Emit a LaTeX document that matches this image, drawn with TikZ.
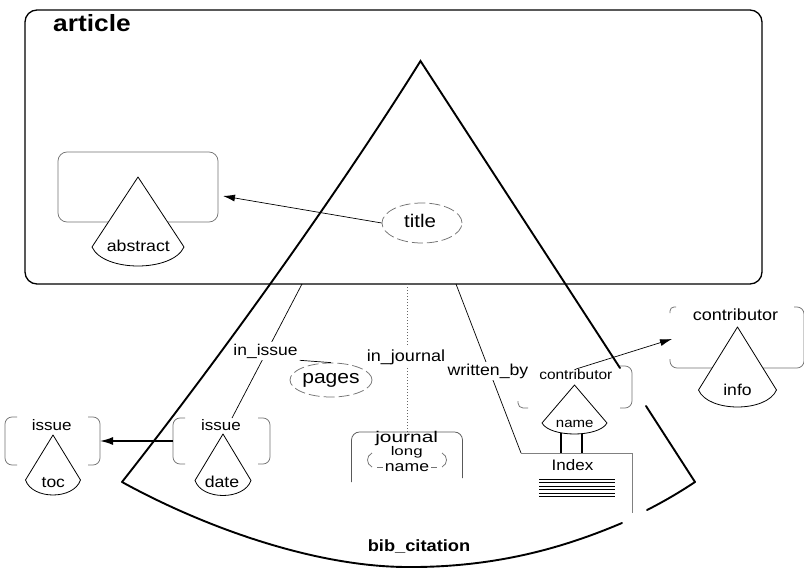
\documentclass[tikz,border=0pt]{standalone}
\usepackage{fontspec}
\setmainfont{Liberation Sans}[FakeStretch=1.12]
\newfontfamily\widesans{Liberation Sans}[FakeStretch=1.35]
\newfontfamily\midsans{Liberation Sans}[FakeStretch=1.2]
\usetikzlibrary{arrows.meta,calc,shapes.geometric}

\newcommand{\setfs}[1]{\fontsize{#1}{#1}\selectfont}
% cone: apex x, apex y, half width of the base, height, bulge of the base arc
\newcommand{\conefig}[5]{%
  \draw[conestyle] (#1,#2) -- ({#1-#3},{#2+#4})
    .. controls ({#1-0.75*#3},{#2+#4+1.333*#5}) and ({#1+0.75*#3},{#2+#4+1.333*#5})
    .. ({#1+#3},{#2+#4}) -- cycle;}
% the two side brackets of a box node, #2 = length of the corner ticks
\newcommand{\sidebrackets}[2]{%
  \draw[faint, rounded corners=7pt] ($(#1.north west)+(#2,0)$) -- (#1.north west)
    -- (#1.south west) -- ($(#1.south west)+(#2,0)$);
  \draw[faint, rounded corners=7pt] ($(#1.north east)+(-#2,0)$) -- (#1.north east)
    -- (#1.south east) -- ($(#1.south east)+(-#2,0)$);}

\begin{document}
\begin{tikzpicture}[x=1pt, y=-1pt,
  frame/.style={draw, line width=1.3pt, rounded corners=12pt, inner sep=0pt},
  area/.style={inner sep=0pt, outer sep=0pt},
  faint/.style={draw=black!55, line width=0.75pt},
  ovaldash/.style={draw=black!55, line width=0.75pt, dash pattern=on 11pt off 4pt,
    shape=ellipse, inner sep=0pt},
  cutline/.style={line width=1.9pt, line cap=round},
  link/.style={line width=0.7pt},
  dotlink/.style={draw=black!60, line width=0.8pt, dash pattern=on 1pt off 2pt},
  conestyle/.style={draw, fill=white, line width=0.8pt, line join=round},
  lbl/.style={inner sep=0pt, anchor=base},
  tag/.style={inner sep=2pt, anchor=base, fill=white},
  thintip/.style={link, -{Latex[length=12pt,width=7pt]}},
  boldtip/.style={line width=1.6pt, -{Latex[length=13pt,width=8pt]}},
]
\useasboundingbox (0,0) rectangle (804,570);
\fill[white] (0,0) rectangle (804,570);

% outer article frame
\node[frame, minimum width=737pt, minimum height=274pt] (article) at (393.5,147) {};
\node[lbl, anchor=base west, font={\bfseries\setfs{23.5}}] (articlelbl) at (53,31) {article};

% abstract box and title oval
\node[area, faint, rounded corners=9pt, minimum width=160pt, minimum height=70pt] (absbox) at (138,187) {};
\coordinate (abstip) at (223,196);
\node[ovaldash, minimum width=80pt, minimum height=40pt] (titleov) at (422,223) {};
\draw[thintip] (titleov.west) -- (abstip);

% box areas below the article frame
\node[area, minimum width=97pt, minimum height=46pt] (datebox) at (221.5,441) {};
\node[area, minimum width=95pt, minimum height=48pt] (tocbox) at (52.5,441) {};
\node[area, minimum width=111pt, minimum height=50pt] (jbox) at (407,457) {};
\node[area, minimum width=111pt, minimum height=60pt] (idxbox) at (576.5,483) {};
\node[area, minimum width=114pt, minimum height=42pt] (csbox) at (575,387) {};
\node[area, minimum width=134pt, minimum height=61pt] (cbbox) at (737,337.5) {};

% links leaving the article frame
\coordinate (iitop) at (302,284);
\coordinate (iibot) at (232,418);
\coordinate (ijtop) at (407,284);
\coordinate (wbtop) at (456,284);
\draw[link] (iitop) -- (iibot);
\draw[dotlink] (ijtop) -- (jbox.north);
\draw[link] (wbtop) -- (idxbox.north west);

\node[tag, font={\setfs{15.6}}] (iilbl) at (265.5,355) {in\_issue};
\node[tag, font={\setfs{16.1}}] (ijlbl) at (406,361) {in\_journal};
\node[tag, font={\setfs{15.8}}] (wblbl) at (488,375) {written\_by};

% pages oval
\node[ovaldash, minimum width=82pt, minimum height=34pt] (pagesov) at (331,380) {};
\node[lbl, font={\setfs{18.8}}] (pageslbl) at (331,383) {pages};
\draw[link] (iilbl.south east) -- (pagesov.north);

% issue boxes
\sidebrackets{tocbox}{12}
\sidebrackets{datebox}{12}
\draw[boldtip] (datebox.west) -- (tocbox.east);

% contributor boxes
\draw[faint, rounded corners=7pt] ($(csbox.north east)+(-12,0)$) -- (csbox.north east)
  -- (csbox.south east) -- ($(csbox.south east)+(-12,0)$);
\draw[faint, rounded corners=5pt] ($(csbox.south west)+(0,-7)$) -- (csbox.south west)
  -- ($(csbox.south west)+(10,0)$);
\draw[faint, rounded corners=7pt] ($(cbbox.north east)+(-10,0)$) -- (cbbox.north east)
  -- (cbbox.south east) -- (cbbox.south west) -- ($(cbbox.south west)+(0,-9)$);
\draw[faint, rounded corners=4pt] ($(cbbox.north west)+(0,6)$) -- (cbbox.north west)
  -- ($(cbbox.north west)+(6,0)$);
\coordinate (cbtip) at (672,339);
\node[lbl, font={\setfs{13.8}}] (cslbl) at (575.8,379.3) {contributor};
\draw[thintip] (cslbl.north) -- (cbtip);

% journal box
\draw[faint, draw=black!65, rounded corners=8pt] (jbox.south west) -- (jbox.north west)
  -- (jbox.north east) -- ($(jbox.south east)+(0,-4)$);
\draw[faint] (372,453) .. controls (366,456) and (366,464) .. (372,467);
\draw[faint] (377,467) -- (383,467);
\draw[faint] (442,453) .. controls (448,456) and (448,464) .. (442,467);
\draw[faint] (431,467) -- (437,467);
\node[lbl, font={\widesans\setfs{15.5}}] (jlbl) at (406.7,442.2) {journal};
\node[lbl, font={\widesans\setfs{12.5}}] (longlbl) at (406.7,455) {long};
\node[lbl, font={\midsans\setfs{14.7}}, fill=white, inner sep=1pt] (jnamelbl) at (407,471.5) {name};

% index box
\draw[faint, draw=black!50] (idxbox.north west) -- (idxbox.north east) -- (idxbox.south east);
\node[lbl, font={\setfs{15.2}}] (idxlbl) at (572.5,470) {Index};
\foreach \yy in {479,482.5,486,489.5,493,496.5}
  \draw[line width=0.9pt] (539,\yy) -- (615,\yy);
\draw[line width=2pt] ($(idxbox.north west)+(40,-25)$) -- ($(idxbox.north west)+(40,0)$);
\draw[line width=2pt] ($(idxbox.north west)+(61,-25)$) -- ($(idxbox.north west)+(61,0)$);

% cones
\conefig{138}{177}{46}{70}{19}
\conefig{53}{435}{27.5}{45}{15}
\conefig{223}{434}{28}{46.5}{15}
\conefig{574.5}{385}{32.5}{38}{11}
\conefig{737.5}{327}{39}{63}{17}

% labels
\node[lbl, font={\setfs{18.3}}] (titlelbl) at (420,227) {title};
\node[lbl, font={\setfs{15.8}}] (abslbl) at (138.3,251.7) {abstract};
\node[lbl, font={\setfs{15.2}}] (issuea) at (51.7,430.7) {issue};
\node[lbl, font={\setfs{15.2}}] (issueb) at (221,430.7) {issue};
\node[lbl, font={\setfs{15.6}}] (toclbl) at (53.3,487.3) {toc};
\node[lbl, font={\setfs{15.8}}] (datelbl) at (222,487.3) {date};
\node[lbl, font={\setfs{13.4}}] (namelbl) at (574.7,427.3) {name};
\node[lbl, font={\setfs{15.7}}] (infolbl) at (737.5,395.7) {info};
\node[lbl, font={\setfs{16.1}}] (cblbl) at (735.5,320.7) {contributor};
\node[lbl, font={\bfseries\setfs{16.3}}] (biblbl) at (419,551) {bib\_citation};

% bib_citation cut
\coordinate (apex) at (420.5,61);
\draw[cutline, line join=miter] (122,482) .. controls (222,355) and (340,190) .. (apex) -- (620,368);
\draw[cutline] (646,406) -- (695,482);
\draw[cutline] (122,482) .. controls (200,525) and (310,566) .. (405,567)
  .. controls (500,568) and (570,545) .. (622,523);
\draw[cutline] (647,510) .. controls (663,502) and (680,492) .. (695,482);
\end{tikzpicture}
\end{document}
